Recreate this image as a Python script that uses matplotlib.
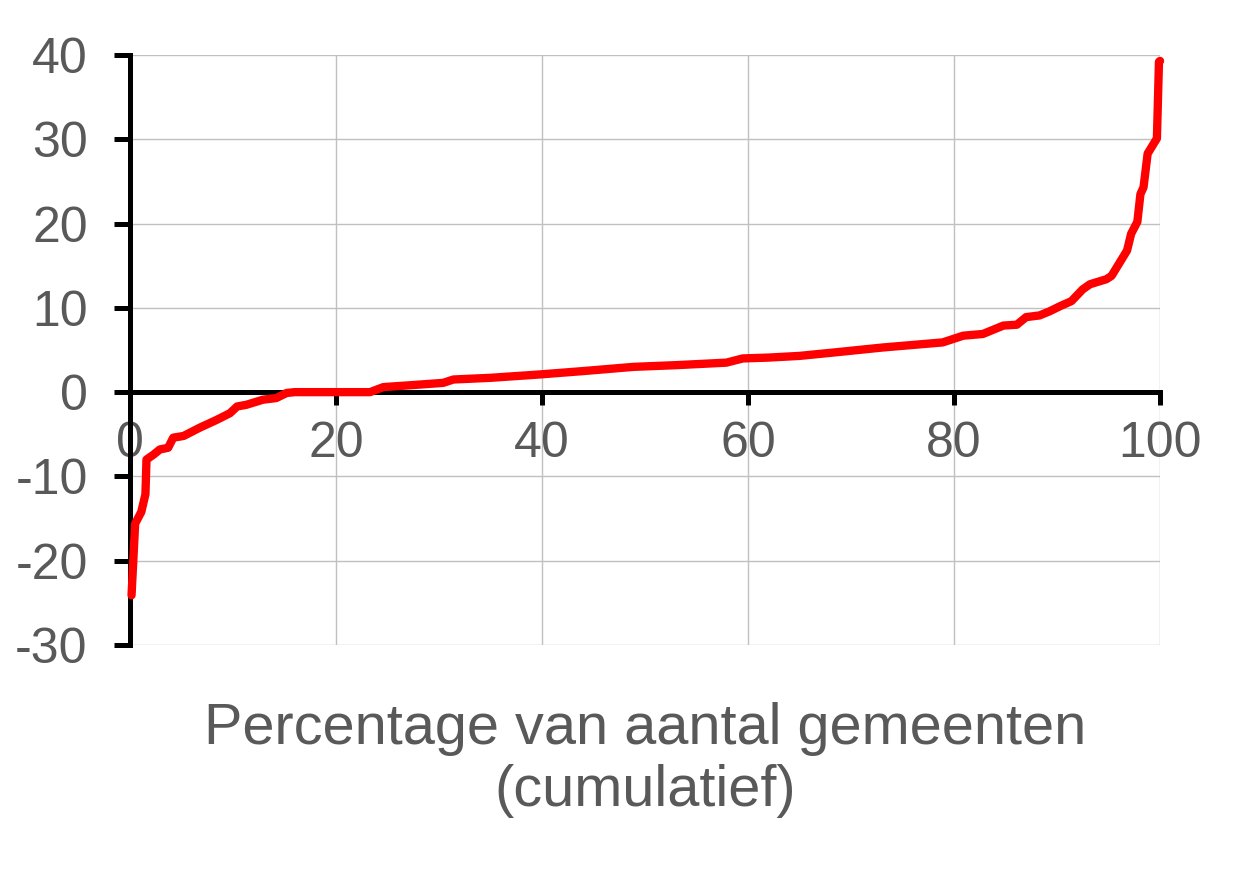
import matplotlib
matplotlib.use("Agg")
import matplotlib.pyplot as plt

plt.rcParams['font.family'] = ['Liberation Sans', 'DejaVu Sans']
plt.rcParams['axes.unicode_minus'] = False

pct = [0.15, 0.5, 1.1, 1.5, 1.6, 2.3, 2.9, 3.7, 4.2, 5.2, 6.8, 8.4, 9.7, 10.4, 11.3,
       12.9, 14.2, 15.2, 16.0, 20.0, 23.3, 24.6, 27.0, 30.4, 31.4, 35.0, 39.8, 44.0,
       48.9, 53.0, 57.9, 59.5, 62.0, 65.0, 68.3, 73.1, 78.9, 80.9, 82.8, 84.8, 86.1,
       87.0, 88.3, 89.3, 90.3, 91.4, 92.5, 93.2, 94.8, 95.3, 95.8, 96.8, 97.2, 97.8,
       98.1, 98.4, 98.8, 99.4, 99.7, 99.9, 100.0]
values = [-24.1, -15.6, -14.2, -12.1, -8.0, -7.4, -6.8, -6.6, -5.4, -5.2, -4.2, -3.3,
          -2.5, -1.7, -1.5, -0.9, -0.7, -0.1, 0.0, 0.0, 0.0, 0.6, 0.8, 1.1, 1.5, 1.7,
          2.1, 2.5, 3.0, 3.2, 3.5, 4.0, 4.1, 4.3, 4.7, 5.3, 5.9, 6.7, 6.9, 7.9, 8.0,
          8.9, 9.1, 9.6, 10.2, 10.8, 12.2, 12.8, 13.4, 13.8, 14.8, 16.8, 18.8, 20.2,
          23.5, 24.3, 28.3, 29.5, 30.1, 39.2, 39.3]

xticks = [0, 20, 40, 60, 80, 100]
yticks = [-30, -20, -10, 0, 10, 20, 30, 40]
xlabel = "Percentage van aantal gemeenten\n(cumulatief)"

grey = '#595959'
fig = plt.figure(figsize=(12.51, 8.85), dpi=100)
ax = fig.add_axes([130/1251, 1-645/885, 1030/1251, 590/885])

ax.set_xlim(0, 100)
ax.set_ylim(-30, 40)
ax.set_xticks(xticks)
ax.set_yticks(yticks)
ax.grid(True, color='#c0c0c0', linewidth=1.0)
ax.set_axisbelow(True)

ax.plot(pct, values, color='#ff0000', linewidth=6, solid_capstyle='round',
        solid_joinstyle='round', clip_on=False, zorder=5)

for s in ['top', 'right']:
    ax.spines[s].set_visible(False)
ax.spines['bottom'].set_position(('data', 0))
ax.spines['left'].set_linewidth(3.6)
ax.spines['bottom'].set_linewidth(3.6)
ax.spines['left'].set_zorder(4)
ax.spines['bottom'].set_zorder(4)

ax.tick_params(axis='y', direction='out', length=11.5, width=3.6, pad=19,
               labelsize=36, labelcolor=grey, color='black')
ax.tick_params(axis='x', direction='out', length=9, width=3.6, pad=12,
               labelsize=36, labelcolor=grey, color='black')

fig.text(645/1251, 1-760/885, xlabel, ha='center', va='center', fontsize=41.5,
         color=grey, linespacing=1.2)

fig.savefig('out.png', dpi=100, facecolor='white')
